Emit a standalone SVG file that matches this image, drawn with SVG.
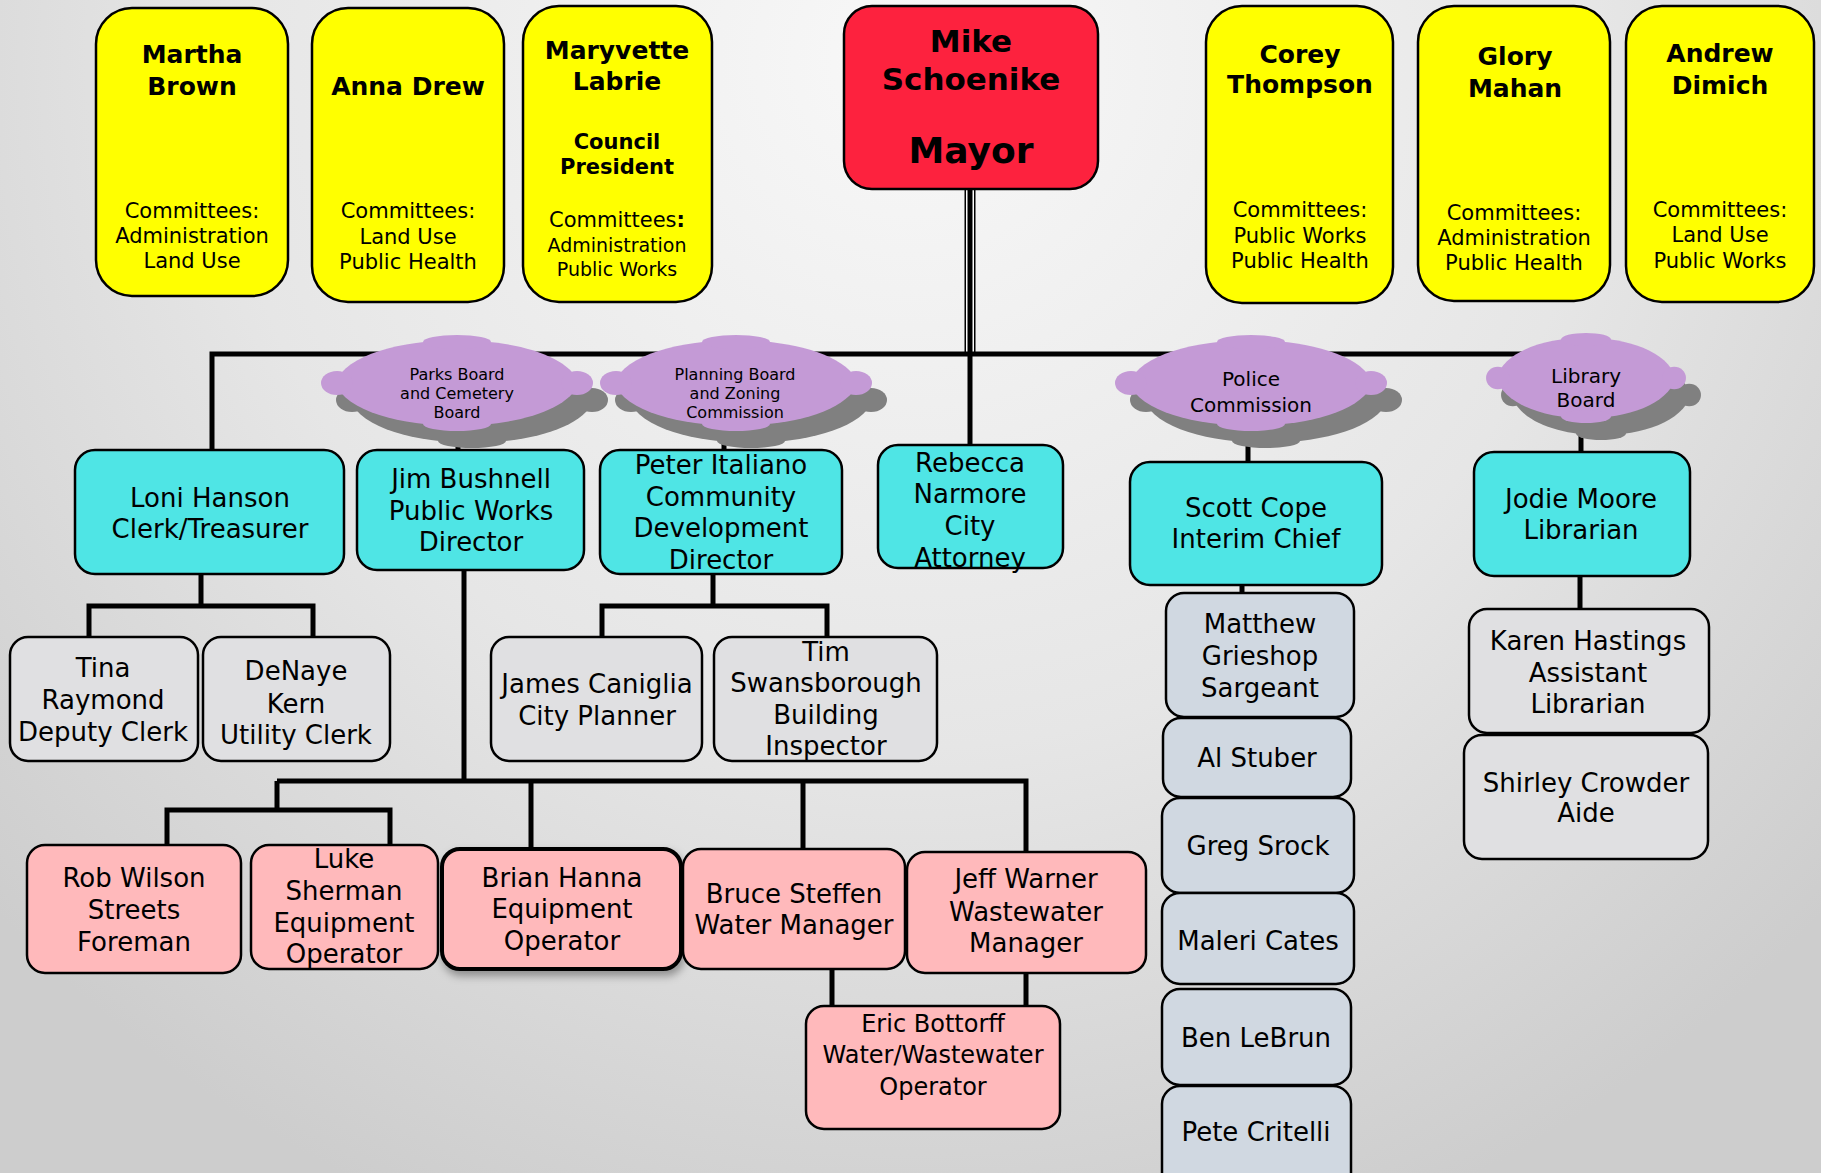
<svg xmlns="http://www.w3.org/2000/svg" width="1821" height="1173" viewBox="0 0 1821 1173">
<defs>
<radialGradient id="bg" gradientUnits="userSpaceOnUse" cx="910" cy="60" r="1250">
<stop offset="0" stop-color="#f8f8f8"/>
<stop offset="0.55" stop-color="#e6e6e6"/>
<stop offset="1" stop-color="#cdcdcd"/>
</radialGradient>
<filter id="sh" x="-10%" y="-10%" width="130%" height="140%"><feDropShadow dx="2" dy="5" stdDeviation="4" flood-color="#000" flood-opacity="0.35"/></filter>
<g id="cloud">
<path d="M-122,0 C-100,-57 100,-57 122,0 C100,57 -100,57 -122,0 Z"/>
<ellipse cx="-120" cy="0" rx="16" ry="12"/>
<ellipse cx="120" cy="0" rx="16" ry="12"/>
<ellipse cx="0" cy="-41" rx="34" ry="7"/>
<ellipse cx="0" cy="41" rx="34" ry="7"/>
</g>
</defs>
<style>
text{font-family:"DejaVu Sans",Verdana,sans-serif;text-anchor:middle;fill:#000}
.nm{font-size:25px;font-weight:bold}
.cm{font-size:21px}
.cs{font-size:19px}
.cp{font-size:21px;font-weight:bold}
.my{font-size:31px;font-weight:bold}
.mz{font-size:36px;font-weight:bold}
.bx{font-size:26px}
.bs{font-size:24px}
.c16{font-size:16px}
.c20{font-size:20px}
rect{stroke:#000;stroke-width:2.5}
.y{fill:#ffff00}
.m{fill:#fd223e}
.t{fill:#4fe5e5}
.g{fill:#e0e0e2}
.b{fill:#d0d8e1}
.p{fill:#ffb9bb}
.cl{fill:#c49ad6}
.cs2{fill:#808080}
.ln{stroke:#000;stroke-width:5;fill:none}
</style>
<rect x="0" y="0" width="1821" height="1173" fill="url(#bg)" style="stroke:none"/>

<g id="connectors">
<line x1="970" y1="189" x2="970" y2="354" stroke="#000" stroke-width="11"/>
<line x1="970" y1="189" x2="970" y2="354" stroke="#fff" stroke-width="8"/>
<line x1="970" y1="189" x2="970" y2="354" stroke="#000" stroke-width="5"/>
<path class="ln" d="M212,450 V354 H1586"/>
<path class="ln" d="M970,354 V445"/>
<path class="ln" d="M458,425 V450 M724,425 V450 M1248,425 V462 M1581,420 V452"/>
<path class="ln" d="M201,574 V606 M89,637 V606 H313 V637"/>
<path class="ln" d="M713,574 V606 M602,637 V606 H827 V637"/>
<path class="ln" d="M464,570 V781 M277,781 H1026 V852 M277,781 V810 M167,845 V810 H390 V845 M531,781 V849 M803,781 V849"/>
<path class="ln" d="M832,969 V1006 M1026,973 V1006"/>
<path class="ln" d="M1242,585 V593"/>
<path class="ln" d="M1580,576 V609"/>
</g>

<g id="parks-board">
<use href="#cloud" class="cs2" transform="translate(472,400)"/>
<use href="#cloud" class="cl" transform="translate(457,383)"/>
<text class="c16" x="457" y="380">Parks Board</text>
<text class="c16" x="457" y="399">and Cemetery</text>
<text class="c16" x="457" y="418">Board</text>
</g>
<g id="planning-board">
<use href="#cloud" class="cs2" transform="translate(751,400)"/>
<use href="#cloud" class="cl" transform="translate(736,383)"/>
<text class="c16" x="735" y="380">Planning Board</text>
<text class="c16" x="735" y="399">and Zoning</text>
<text class="c16" x="735" y="418">Commission</text>
</g>
<g id="police-commission">
<use href="#cloud" class="cs2" transform="translate(1266,400)"/>
<use href="#cloud" class="cl" transform="translate(1251,383)"/>
<text class="c20" x="1251" y="386">Police</text>
<text class="c20" x="1251" y="412">Commission</text>
</g>
<g id="library-board">
<use href="#cloud" class="cs2" transform="translate(1601,395) scale(0.735,0.94)"/>
<use href="#cloud" class="cl" transform="translate(1586,378) scale(0.735,0.94)"/>
<text class="c20" x="1586" y="383">Library</text>
<text class="c20" x="1586" y="407">Board</text>
</g>

<g id="martha-brown">
<rect class="y" x="96" y="8" width="192" height="288" rx="36"/>
<text class="nm" x="192" y="63">Martha</text>
<text class="nm" x="192" y="95">Brown</text>
<text class="cm" x="192" y="218">Committees:</text>
<text class="cm" x="192" y="243">Administration</text>
<text class="cm" x="192" y="268">Land Use</text>
</g>
<g id="anna-drew">
<rect class="y" x="312" y="8" width="192" height="294" rx="36"/>
<text class="nm" x="408" y="95">Anna Drew</text>
<text class="cm" x="408" y="218">Committees:</text>
<text class="cm" x="408" y="244">Land Use</text>
<text class="cm" x="408" y="269">Public Health</text>
</g>
<g id="maryvette-labrie">
<rect class="y" x="523" y="6" width="189" height="296" rx="36"/>
<text class="nm" x="617" y="59">Maryvette</text>
<text class="nm" x="617" y="90">Labrie</text>
<text class="cp" x="617" y="149">Council</text>
<text class="cp" x="617" y="174">President</text>
<text class="cm" x="617" y="227">Committees<tspan font-weight="bold">:</tspan></text>
<text class="cs" x="617" y="252">Administration</text>
<text class="cs" x="617" y="276">Public Works</text>
</g>
<g id="mike-schoenike">
<rect class="m" x="844" y="6" width="254" height="183" rx="28"/>
<text class="my" x="971" y="52">Mike</text>
<text class="my" x="971" y="90">Schoenike</text>
<text class="mz" x="971" y="163">Mayor</text>
</g>
<g id="corey-thompson">
<rect class="y" x="1206" y="6" width="187" height="297" rx="36"/>
<text class="nm" x="1300" y="63">Corey</text>
<text class="nm" x="1300" y="93">Thompson</text>
<text class="cm" x="1300" y="217">Committees:</text>
<text class="cm" x="1300" y="243">Public Works</text>
<text class="cm" x="1300" y="268">Public Health</text>
</g>
<g id="glory-mahan">
<rect class="y" x="1418" y="6" width="192" height="295" rx="36"/>
<text class="nm" x="1515" y="65">Glory</text>
<text class="nm" x="1515" y="97">Mahan</text>
<text class="cm" x="1514" y="220">Committees:</text>
<text class="cm" x="1514" y="245">Administration</text>
<text class="cm" x="1514" y="270">Public Health</text>
</g>
<g id="andrew-dimich">
<rect class="y" x="1626" y="6" width="188" height="296" rx="36"/>
<text class="nm" x="1720" y="62">Andrew</text>
<text class="nm" x="1720" y="94">Dimich</text>
<text class="cm" x="1720" y="217">Committees:</text>
<text class="cm" x="1720" y="242">Land Use</text>
<text class="cm" x="1720" y="268">Public Works</text>
</g>

<g id="loni-hanson">
<rect class="t" x="75" y="450" width="269" height="124" rx="20"/>
<text class="bx" x="210" y="507">Loni Hanson</text>
<text class="bx" x="210" y="538">Clerk/Treasurer</text>
</g>
<g id="jim-bushnell">
<rect class="t" x="357" y="450" width="227" height="120" rx="20"/>
<text class="bx" x="471" y="488">Jim Bushnell</text>
<text class="bx" x="471" y="520">Public Works</text>
<text class="bx" x="471" y="551">Director</text>
</g>
<g id="peter-italiano">
<rect class="t" x="600" y="450" width="242" height="124" rx="20"/>
<text class="bx" x="721" y="474">Peter Italiano</text>
<text class="bx" x="721" y="506">Community</text>
<text class="bx" x="721" y="537">Development</text>
<text class="bx" x="721" y="569">Director</text>
</g>
<g id="rebecca-narmore">
<rect class="t" x="878" y="445" width="185" height="123" rx="20"/>
<text class="bx" x="970" y="472">Rebecca</text>
<text class="bx" x="970" y="503">Narmore</text>
<text class="bx" x="970" y="535">City</text>
<text class="bx" x="970" y="567">Attorney</text>
</g>
<g id="scott-cope">
<rect class="t" x="1130" y="462" width="252" height="123" rx="20"/>
<text class="bx" x="1256" y="517">Scott Cope</text>
<text class="bx" x="1256" y="548">Interim Chief</text>
</g>
<g id="jodie-moore">
<rect class="t" x="1474" y="452" width="216" height="124" rx="20"/>
<text class="bx" x="1581" y="508">Jodie Moore</text>
<text class="bx" x="1581" y="539">Librarian</text>
</g>

<g id="tina-raymond">
<rect class="g" x="10" y="637" width="188" height="124" rx="18"/>
<text class="bx" x="103" y="677">Tina</text>
<text class="bx" x="103" y="709">Raymond</text>
<text class="bx" x="103" y="741">Deputy Clerk</text>
</g>
<g id="denaye-kern">
<rect class="g" x="203" y="637" width="187" height="124" rx="18"/>
<text class="bx" x="296" y="680">DeNaye</text>
<text class="bx" x="296" y="713">Kern</text>
<text class="bx" x="296" y="744">Utility Clerk</text>
</g>
<g id="james-caniglia">
<rect class="g" x="491" y="637" width="211" height="124" rx="18"/>
<text class="bx" x="597" y="693">James Caniglia</text>
<text class="bx" x="597" y="725">City Planner</text>
</g>
<g id="tim-swansborough">
<rect class="g" x="714" y="637" width="223" height="124" rx="18"/>
<text class="bx" x="826" y="661">Tim</text>
<text class="bx" x="826" y="692">Swansborough</text>
<text class="bx" x="826" y="724">Building</text>
<text class="bx" x="826" y="755">Inspector</text>
</g>
<g id="karen-hastings">
<rect class="g" x="1469" y="609" width="240" height="124" rx="18"/>
<text class="bx" x="1588" y="650">Karen Hastings</text>
<text class="bx" x="1588" y="682">Assistant</text>
<text class="bx" x="1588" y="713">Librarian</text>
</g>
<g id="shirley-crowder">
<rect class="g" x="1464" y="735" width="244" height="124" rx="18"/>
<text class="bx" x="1586" y="792">Shirley Crowder</text>
<text class="bx" x="1586" y="822">Aide</text>
</g>

<g id="matthew-grieshop">
<rect class="b" x="1166" y="593" width="188" height="124" rx="18"/>
<text class="bx" x="1260" y="633">Matthew</text>
<text class="bx" x="1260" y="665">Grieshop</text>
<text class="bx" x="1260" y="697">Sargeant</text>
</g>
<g id="al-stuber">
<rect class="b" x="1163" y="718" width="188" height="79" rx="18"/>
<text class="bx" x="1257" y="767">Al Stuber</text>
</g>
<g id="greg-srock">
<rect class="b" x="1162" y="798" width="192" height="95" rx="18"/>
<text class="bx" x="1258" y="855">Greg Srock</text>
</g>
<g id="maleri-cates">
<rect class="b" x="1162" y="893" width="192" height="91" rx="18"/>
<text class="bx" x="1258" y="950">Maleri Cates</text>
</g>
<g id="ben-lebrun">
<rect class="b" x="1162" y="989" width="189" height="96" rx="18"/>
<text class="bx" x="1256" y="1047">Ben LeBrun</text>
</g>
<g id="pete-critelli">
<rect class="b" x="1162" y="1086" width="189" height="110" rx="18"/>
<text class="bx" x="1256" y="1141">Pete Critelli</text>
</g>

<g id="rob-wilson">
<rect class="p" x="27" y="845" width="214" height="128" rx="18"/>
<text class="bx" x="134" y="887">Rob Wilson</text>
<text class="bx" x="134" y="919">Streets</text>
<text class="bx" x="134" y="951">Foreman</text>
</g>
<g id="luke-sherman">
<rect class="p" x="251" y="845" width="187" height="124" rx="18"/>
<text class="bx" x="344" y="868">Luke</text>
<text class="bx" x="344" y="900">Sherman</text>
<text class="bx" x="344" y="932">Equipment</text>
<text class="bx" x="344" y="963">Operator</text>
</g>
<g id="brian-hanna">
<rect class="p" x="442" y="849" width="239" height="120" rx="18" style="stroke-width:4" filter="url(#sh)"/>
<text class="bx" x="562" y="887">Brian Hanna</text>
<text class="bx" x="562" y="918">Equipment</text>
<text class="bx" x="562" y="950">Operator</text>
</g>
<g id="bruce-steffen">
<rect class="p" x="683" y="849" width="222" height="120" rx="18"/>
<text class="bx" x="794" y="903">Bruce Steffen</text>
<text class="bx" x="794" y="934">Water Manager</text>
</g>
<g id="jeff-warner">
<rect class="p" x="907" y="852" width="239" height="121" rx="18"/>
<text class="bx" x="1026" y="888">Jeff Warner</text>
<text class="bx" x="1026" y="921">Wastewater</text>
<text class="bx" x="1026" y="952">Manager</text>
</g>
<g id="eric-bottorff">
<rect class="p" x="806" y="1006" width="254" height="123" rx="18"/>
<text class="bs" x="933" y="1032">Eric Bottorff</text>
<text class="bs" x="933" y="1063">Water/Wastewater</text>
<text class="bs" x="933" y="1095">Operator</text>
</g>
</svg>
